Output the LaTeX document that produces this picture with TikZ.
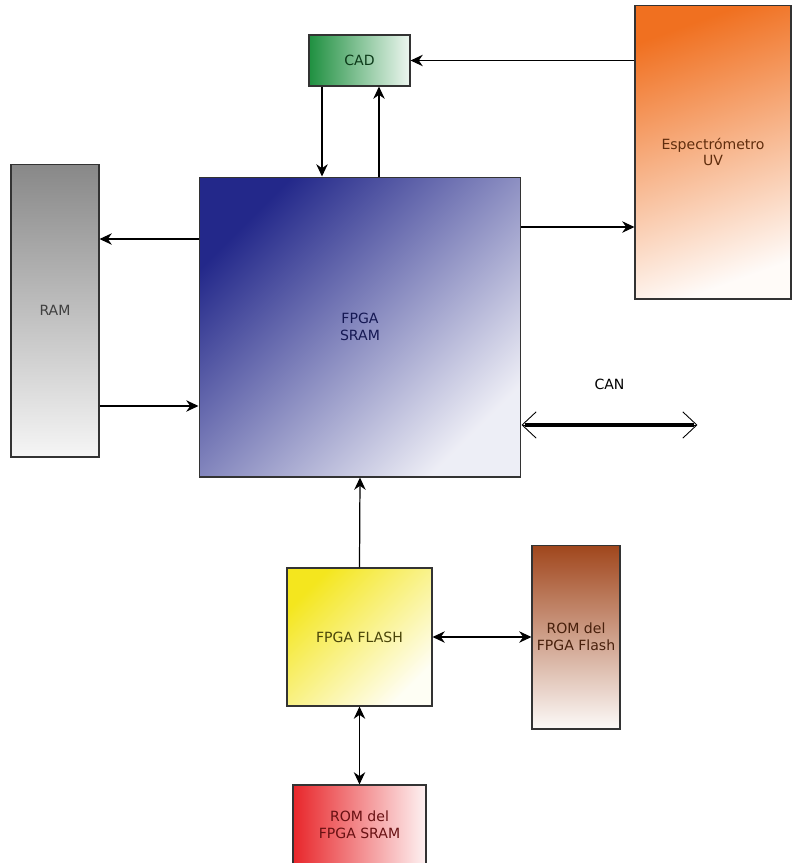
\documentclass[tikz,border=0pt]{standalone}
\usepackage{fontspec}
\setmainfont{DejaVu Sans}
\usepackage{xcolor}
\definecolor{colSram}{HTML}{23288A}
\definecolor{colCad}{HTML}{1F9040}
\definecolor{colSpec}{HTML}{F07020}
\definecolor{colRam}{HTML}{888888}
\definecolor{colFlash}{HTML}{F4E61E}
\definecolor{colRomF}{HTML}{A0461C}
\definecolor{colRomS}{HTML}{E8262A}
\definecolor{colEdge}{HTML}{333333}
\usetikzlibrary{arrows.meta, positioning, calc}

\begin{document}
\begin{tikzpicture}[x=0.02cm, y=-0.02cm,
    blk/.style={draw=colEdge, line width=0.6pt, inner sep=0pt, align=center,
        font=\fontsize{8}{9.5}\selectfont},
    arr/.style={-{Stealth[length=7pt,width=6.5pt]}, line width=0.7pt},
    biarr/.style={{Stealth[length=7pt,width=6.5pt]}-{Stealth[length=7pt,width=6.5pt]}, line width=0.7pt}]
    \useasboundingbox (0,0) rectangle (793,863);

    % === Bloques ===
    \node[blk, minimum width=6.44cm, minimum height=6cm, top color=colSram, middle color=colSram!78!white,
        bottom color=colSram!8!white, shading angle=45, text=colSram!60!black] (sram) at (360,327) {FPGA\\SRAM};
    \node[blk, minimum width=2.02cm, minimum height=1.02cm, left color=colCad, right color=colCad!8!white,
        text=colCad!40!black] (cad) at (359.5,60.5) {CAD};
    \node[blk, minimum width=3.12cm, minimum height=5.88cm, top color=colSpec, bottom color=colSpec!3!white,
        shading angle=20, text=colSpec!40!black] (spec) at (713,152) {Espectrómetro\\UV};
    \node[blk, minimum width=1.76cm, minimum height=5.86cm, top color=colRam, bottom color=colRam!8!white,
        text=black!75] (ram) at (55,310.5) {RAM};
    \node[blk, minimum width=2.9cm, minimum height=2.76cm, top color=colFlash, bottom color=colFlash!5!white,
        shading angle=45, text=colFlash!30!black] (flash) at (359.5,637) {FPGA FLASH};
    \node[blk, minimum width=1.76cm, minimum height=3.68cm, top color=colRomF, bottom color=colRomF!3!white,
        text=colRomF!45!black] (romf) at (576,637) {ROM del\\FPGA Flash};
    \node[blk, minimum width=2.66cm, minimum height=1.6cm, left color=colRomS, right color=colRomS!6!white,
        text=colRomS!45!black] (roms) at (359.5,825) {ROM del\\FPGA SRAM};

    % === Puntos auxiliares ===
    \coordinate (cadIn)  at ([xshift=-0.75cm]cad.south);
    \coordinate (cadOut) at ([xshift=0.39cm]cad.south);
    \coordinate (ramIn)  at ([yshift=1.76cm]sram.west);
    \coordinate (ramOut) at ([yshift=-1.58cm]sram.west);
    \coordinate (specIn) at ([yshift=2cm]sram.east);
    \coordinate (canA)   at ([yshift=-1.96cm]sram.east);
    \coordinate (canB)   at ([xshift=3.52cm]canA);

    % === Conexiones ===
    \draw[arr] (spec.west |- cad.east) -- (cad.east);
    \draw[arr] (cadIn) -- (cadIn |- sram.north);
    \draw[arr] (cadOut |- sram.north) -- (cadOut);
    \draw[arr] (ramIn) -- (ramIn -| ram.east);
    \draw[arr] (ramOut -| ram.east) -- (ramOut);
    \draw[arr] (specIn) -- (specIn -| spec.west);
    \draw[arr] (flash.north) -- (sram.south);
    \draw[biarr] (flash.east) -- (romf.west);
    \draw[biarr] (flash.south) -- (roms.north);

    % Bus CAN
    \draw[line width=2.8pt, shorten <=2pt, shorten >=2pt] (canA) -- (canB);
    \draw[{Straight Barb[length=8pt,width=15pt]}-{Straight Barb[length=8pt,width=15pt]}, line width=0.5pt]
        (canA) -- (canB) node[midway, above=0.58cm, font=\fontsize{8}{9.5}\selectfont] (can) {CAN};
\end{tikzpicture}
\end{document}
